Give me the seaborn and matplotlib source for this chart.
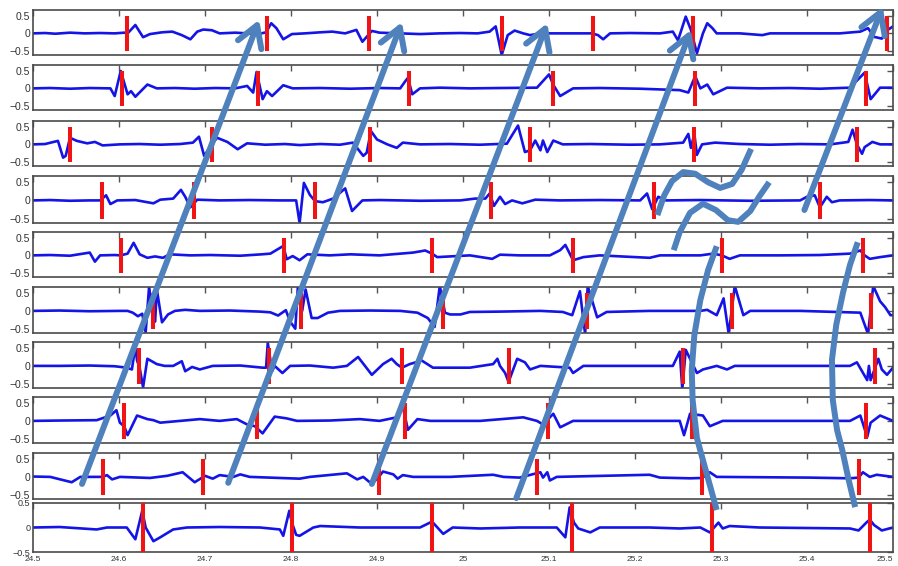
import matplotlib
matplotlib.use("Agg")
import matplotlib.pyplot as plt
import numpy as np
import pandas as pd
import seaborn as sns

# ---------------------------------------------------------------------------
# Recorded channels: (time [s], amplitude) samples, one list per channel
# ---------------------------------------------------------------------------
CH1 = [(24.500, 0.0), (24.514, 0.01), (24.526, -0.01), (24.543, 0.02), (24.560, 0.0),
       (24.578, 0.01), (24.595, 0.0), (24.606, 0.02), (24.610, 0.0), (24.619, 0.24),
       (24.628, -0.11), (24.636, -0.02), (24.650, 0.03), (24.662, 0.05), (24.673, -0.05),
       (24.683, -0.17), (24.691, 0.05), (24.698, 0.11), (24.708, 0.09), (24.717, 0.0),
       (24.735, 0.02), (24.750, 0.0), (24.762, -0.02), (24.771, 0.03), (24.777, 0.29),
       (24.783, 0.15), (24.791, -0.17), (24.801, -0.02), (24.816, 0.0), (24.834, 0.03),
       (24.848, 0.05), (24.863, 0.0), (24.876, 0.1), (24.883, -0.24), (24.888, -0.1),
       (24.894, 0.07), (24.903, 0.02), (24.927, 0.0), (24.950, -0.02), (24.973, 0.0),
       (24.997, 0.01), (25.017, 0.0), (25.031, 0.05), (25.038, 0.2), (25.045, -0.62),
       (25.052, -0.05), (25.060, 0.08), (25.070, 0.0), (25.078, -0.05), (25.090, 0.0),
       (25.124, 0.0), (25.150, 0.0), (25.157, -0.05), (25.163, -0.17), (25.171, 0.0),
       (25.194, 0.01), (25.229, 0.0), (25.244, 0.05), (25.250, -0.2), (25.259, 0.48),
       (25.265, 0.1), (25.272, -0.57), (25.279, 0.0), (25.284, 0.29), (25.290, 0.15),
       (25.295, 0.0), (25.322, 0.0), (25.348, -0.05), (25.357, 0.0), (25.392, 0.0),
       (25.438, 0.0), (25.462, 0.05), (25.471, 0.15), (25.478, -0.1), (25.487, -0.15),
       (25.494, 0.1), (25.500, 0.2)]

CH2 = [(24.500, 0.0), (24.520, 0.01), (24.543, -0.01), (24.566, 0.01), (24.590, 0.0),
       (24.595, -0.22), (24.602, 0.5), (24.610, -0.17), (24.614, -0.08), (24.619, -0.24),
       (24.633, 0.11), (24.644, 0.0), (24.665, 0.01), (24.688, -0.01), (24.712, 0.01),
       (24.735, 0.0), (24.749, 0.07), (24.756, -0.12), (24.760, 0.47), (24.767, -0.31),
       (24.772, -0.08), (24.778, -0.22), (24.791, 0.09), (24.802, 0.0), (24.834, 0.01),
       (24.869, -0.01), (24.903, 0.01), (24.927, 0.0), (24.933, 0.21), (24.936, 0.3),
       (24.941, -0.17), (24.950, 0.0), (24.973, 0.02), (25.008, 0.0), (25.043, 0.01),
       (25.086, 0.02), (25.100, 0.4), (25.105, 0.1), (25.113, -0.22), (25.128, 0.0),
       (25.159, 0.01), (25.206, -0.01), (25.252, -0.05), (25.262, -0.12), (25.270, 0.35),
       (25.276, 0.0), (25.284, 0.11), (25.291, -0.17), (25.307, 0.02), (25.345, 0.0),
       (25.380, 0.01), (25.415, -0.01), (25.450, 0.02), (25.467, 0.45), (25.474, -0.31),
       (25.485, 0.02), (25.500, 0.02)]

CH3 = [(24.500, 0.0), (24.514, 0.01), (24.529, 0.1), (24.535, -0.38), (24.538, -0.33),
       (24.543, 0.19), (24.551, 0.1), (24.563, 0.03), (24.572, 0.07), (24.581, -0.03),
       (24.601, 0.0), (24.624, 0.01), (24.648, -0.01), (24.671, 0.01), (24.686, 0.05),
       (24.693, 0.22), (24.699, -0.33), (24.708, 0.0), (24.714, 0.19), (24.726, 0.07),
       (24.738, -0.14), (24.749, 0.03), (24.770, -0.01), (24.793, 0.01), (24.810, -0.02),
       (24.834, 0.01), (24.857, -0.01), (24.872, 0.05), (24.884, -0.33), (24.888, -0.24),
       (24.893, 0.38), (24.900, 0.14), (24.912, 0.0), (24.923, -0.1), (24.930, 0.05),
       (24.950, 0.0), (24.985, 0.01), (25.020, -0.01), (25.051, 0.02), (25.064, 0.54),
       (25.072, -0.22), (25.078, -0.17), (25.084, 0.11), (25.090, -0.17), (25.093, 0.11),
       (25.098, -0.22), (25.105, 0.11), (25.116, 0.0), (25.148, 0.01), (25.194, -0.01),
       (25.229, 0.0), (25.256, 0.05), (25.262, 0.3), (25.265, -0.1), (25.269, 0.3),
       (25.272, -0.3), (25.278, 0.0), (25.293, 0.05), (25.322, 0.01), (25.357, -0.01),
       (25.392, 0.01), (25.427, 0.0), (25.448, 0.07), (25.453, 0.42), (25.458, 0.0),
       (25.464, -0.27), (25.467, -0.08), (25.476, 0.07), (25.485, 0.0), (25.500, 0.0)]

CH4 = [(24.500, 0.0), (24.520, 0.01), (24.543, -0.01), (24.566, 0.0), (24.578, 0.0),
       (24.585, 0.14), (24.590, -0.1), (24.598, 0.0), (24.619, 0.01), (24.640, -0.08),
       (24.648, 0.02), (24.663, 0.05), (24.672, 0.29), (24.677, 0.1), (24.683, -0.19),
       (24.691, 0.02), (24.717, 0.0), (24.752, 0.01), (24.787, 0.0), (24.806, 0.0),
       (24.810, -0.62), (24.815, 0.48), (24.822, 0.15), (24.828, -0.02), (24.837, -0.05),
       (24.849, 0.05), (24.863, 0.33), (24.871, -0.29), (24.883, 0.0), (24.903, 0.01),
       (24.950, -0.01), (24.997, 0.0), (25.014, 0.05), (25.026, 0.05), (25.031, 0.19),
       (25.036, -0.15), (25.043, 0.1), (25.049, -0.1), (25.057, 0.0), (25.069, -0.08),
       (25.084, 0.02), (25.113, 0.0), (25.159, 0.01), (25.206, 0.0), (25.214, 0.19),
       (25.220, -0.24), (25.227, 0.1), (25.236, 0.0), (25.276, 0.01), (25.334, -0.01),
       (25.392, 0.0), (25.400, 0.1), (25.409, 0.14), (25.415, -0.19), (25.423, 0.1),
       (25.429, -0.05), (25.438, 0.0), (25.473, 0.01), (25.500, 0.0)]

CH5 = [(24.500, 0.0), (24.520, 0.01), (24.543, -0.01), (24.566, 0.08), (24.572, -0.18),
       (24.578, 0.0), (24.595, 0.01), (24.602, 0.0), (24.610, 0.05), (24.617, 0.36),
       (24.624, 0.03), (24.633, -0.07), (24.642, -0.03), (24.651, -0.07), (24.659, 0.03),
       (24.683, 0.0), (24.706, 0.01), (24.741, -0.01), (24.766, 0.03), (24.776, 0.05),
       (24.791, 0.27), (24.795, -0.11), (24.802, -0.02), (24.810, -0.14), (24.819, 0.03),
       (24.845, 0.0), (24.869, 0.03), (24.903, 0.0), (24.942, 0.08), (24.956, 0.14),
       (24.964, 0.05), (24.970, -0.05), (24.985, -0.03), (25.008, 0.0), (25.034, -0.1),
       (25.043, 0.02), (25.066, 0.0), (25.101, 0.0), (25.113, 0.15), (25.119, 0.3),
       (25.128, -0.14), (25.140, -0.05), (25.159, 0.0), (25.217, -0.07), (25.229, 0.0),
       (25.276, 0.0), (25.291, 0.05), (25.301, 0.0), (25.310, -0.1), (25.322, 0.0),
       (25.369, 0.0), (25.415, 0.01), (25.450, 0.05), (25.462, 0.14), (25.467, 0.0),
       (25.473, -0.1), (25.485, -0.05), (25.500, 0.0)]

CH6 = [(24.500, 0.0), (24.531, 0.01), (24.566, -0.01), (24.601, 0.0), (24.610, 0.0),
       (24.616, -0.05), (24.622, -0.15), (24.627, -0.08), (24.631, -0.6), (24.635, 0.68),
       (24.638, 0.1), (24.642, -0.3), (24.644, 0.6), (24.650, -0.32), (24.657, -0.1),
       (24.665, 0.0), (24.677, 0.03), (24.694, 0.0), (24.729, 0.01), (24.764, -0.02),
       (24.776, -0.04), (24.785, -0.13), (24.794, 0.02), (24.799, -0.3), (24.805, -0.5),
       (24.808, 0.68), (24.813, 0.0), (24.817, 0.6), (24.824, -0.2), (24.831, -0.2),
       (24.843, -0.05), (24.857, 0.0), (24.892, 0.01), (24.927, 0.0), (24.947, -0.05),
       (24.959, -0.2), (24.967, -0.45), (24.973, 0.7), (24.979, -0.05), (24.985, -0.1),
       (24.997, -0.1), (25.008, -0.03), (25.043, -0.02), (25.090, 0.0), (25.116, -0.03),
       (25.127, -0.12), (25.136, 0.55), (25.142, -0.65), (25.145, 0.7), (25.156, -0.18),
       (25.167, -0.03), (25.217, 0.0), (25.276, 0.0), (25.284, 0.03), (25.295, -0.12),
       (25.303, 0.35), (25.309, -0.65), (25.316, 0.7), (25.326, -0.12), (25.334, 0.0),
       (25.392, 0.0), (25.462, -0.05), (25.471, -0.65), (25.477, 0.7), (25.485, 0.27),
       (25.491, 0.1), (25.497, -0.12), (25.500, -0.12)]

CH7 = [(24.500, 0.0), (24.531, 0.0), (24.566, 0.01), (24.595, -0.01), (24.609, -0.05),
       (24.615, -0.1), (24.619, 0.55), (24.621, 0.15), (24.624, -0.05), (24.628, -0.6),
       (24.633, 0.2), (24.644, 0.05), (24.653, 0.0), (24.663, 0.0), (24.673, 0.13),
       (24.677, -0.15), (24.685, -0.03), (24.694, -0.1), (24.709, 0.0), (24.741, 0.01),
       (24.767, -0.05), (24.771, -0.05), (24.773, 0.65), (24.778, -0.15), (24.781, 0.0),
       (24.790, -0.2), (24.799, 0.0), (24.822, 0.01), (24.849, -0.05), (24.865, 0.0),
       (24.878, 0.25), (24.894, -0.25), (24.907, 0.05), (24.917, 0.2), (24.923, 0.05),
       (24.929, -0.05), (24.938, 0.05), (24.952, 0.15), (24.965, -0.05), (24.985, -0.05),
       (25.008, -0.05), (25.035, 0.05), (25.040, 0.2), (25.043, 0.0), (25.049, -0.2),
       (25.053, -0.45), (25.063, 0.2), (25.072, 0.1), (25.078, -0.1), (25.090, 0.0),
       (25.124, -0.05), (25.128, -0.2), (25.140, 0.0), (25.183, 0.0), (25.244, 0.0),
       (25.252, 0.4), (25.255, -0.65), (25.259, 0.45), (25.272, -0.2), (25.279, -0.1),
       (25.295, 0.0), (25.307, -0.1), (25.316, 0.0), (25.369, 0.0), (25.450, 0.0),
       (25.458, 0.1), (25.470, -0.4), (25.472, 0.0), (25.474, -0.4), (25.483, 0.2),
       (25.487, -0.1), (25.493, -0.25), (25.500, -0.05)]

CH8 = [(24.500, 0.0), (24.531, 0.01), (24.574, 0.02), (24.590, 0.15), (24.597, 0.3),
       (24.601, -0.05), (24.606, -0.15), (24.610, -0.4), (24.621, 0.15), (24.633, 0.05),
       (24.640, 0.02), (24.648, -0.05), (24.671, 0.0), (24.694, 0.05), (24.717, 0.0),
       (24.737, 0.05), (24.749, -0.1), (24.758, -0.15), (24.767, -0.35), (24.781, 0.12),
       (24.795, 0.07), (24.807, 0.0), (24.845, 0.01), (24.880, 0.05), (24.903, 0.0),
       (24.923, 0.1), (24.930, 0.4), (24.936, -0.25), (24.947, 0.05), (24.962, 0.0),
       (25.020, 0.0), (25.070, 0.1), (25.086, 0.0), (25.093, -0.1), (25.105, 0.2),
       (25.113, -0.18), (25.128, 0.0), (25.183, 0.0), (25.252, 0.0), (25.257, -0.4),
       (25.264, 0.2), (25.279, 0.15), (25.287, -0.15), (25.302, 0.0), (25.369, 0.0),
       (25.450, 0.0), (25.462, 0.15), (25.470, -0.45), (25.474, -0.05), (25.485, 0.15),
       (25.500, 0.0)]

CH9 = [(24.500, 0.01), (24.520, 0.0), (24.545, -0.15), (24.555, 0.0), (24.581, 0.0),
       (24.586, 0.05), (24.592, -0.07), (24.601, 0.0), (24.636, -0.03), (24.656, 0.03),
       (24.674, 0.13), (24.688, -0.15), (24.700, 0.03), (24.709, -0.05), (24.717, 0.05),
       (24.733, 0.0), (24.741, 0.07), (24.752, 0.0), (24.810, -0.05), (24.822, 0.0),
       (24.865, 0.1), (24.877, -0.07), (24.884, 0.0), (24.894, -0.2), (24.902, 0.0),
       (24.907, 0.15), (24.919, 0.07), (24.924, -0.05), (24.930, 0.05), (24.942, 0.0),
       (24.985, 0.0), (25.035, 0.06), (25.047, 0.0), (25.066, -0.02), (25.090, 0.13),
       (25.093, -0.02), (25.098, 0.13), (25.101, -0.1), (25.109, 0.0), (25.217, 0.06),
       (25.229, -0.02), (25.264, -0.04), (25.278, -0.03), (25.287, 0.13), (25.295, 0.0),
       (25.403, -0.02), (25.450, -0.04), (25.460, -0.02), (25.465, 0.13), (25.473, 0.0),
       (25.481, 0.06), (25.500, 0.0)]

CH10 = [(24.500, 0.0), (24.531, 0.01), (24.574, -0.04), (24.586, 0.0), (24.609, 0.0),
        (24.619, -0.24), (24.627, 0.34), (24.631, 0.0), (24.640, -0.28), (24.648, -0.2),
        (24.663, -0.04), (24.679, 0.0), (24.717, 0.01), (24.764, 0.0), (24.787, -0.04),
        (24.791, -0.17), (24.798, 0.34), (24.801, 0.1), (24.806, -0.15), (24.810, -0.17),
        (24.826, 0.0), (24.834, 0.03), (24.880, 0.0), (24.927, 0.0), (24.950, 0.0),
        (24.964, 0.12), (24.977, -0.13), (24.988, 0.0), (25.020, -0.02), (25.066, 0.0),
        (25.109, 0.0), (25.119, -0.2), (25.124, 0.41), (25.129, 0.1), (25.134, -0.02),
        (25.148, -0.1), (25.159, 0.0), (25.217, 0.0), (25.252, -0.02), (25.276, 0.0),
        (25.287, -0.1), (25.297, 0.1), (25.302, -0.02), (25.310, 0.03), (25.345, 0.0),
        (25.450, -0.02), (25.460, -0.06), (25.469, 0.1), (25.473, 0.16), (25.478, 0.05),
        (25.487, -0.06), (25.500, 0.0)]

CHANNELS = [CH1, CH2, CH3, CH4, CH5, CH6, CH7, CH8, CH9, CH10]

# Detected event times per channel [s]
EVENTS = [
    [24.609, 24.772, 24.891, 25.045, 25.151, 25.267, 25.493],
    [24.603, 24.762, 24.937, 25.105, 25.270, 25.469],
    [24.543, 24.708, 24.892, 25.078, 25.269, 25.458],
    [24.580, 24.687, 24.828, 25.033, 25.222, 25.415],
    [24.602, 24.792, 24.964, 25.128, 25.301, 25.465],
    [24.640, 24.812, 24.977, 25.144, 25.313, 25.474],
    [24.623, 24.774, 24.929, 25.053, 25.256, 25.479],
    [24.606, 24.761, 24.933, 25.099, 25.266, 25.469],
    [24.581, 24.698, 24.902, 25.086, 25.278, 25.460],
    [24.628, 24.801, 24.964, 25.127, 25.290, 25.473],
]

X_TICKS = [24.5, 24.6, 24.7, 24.8, 24.9, 25.0, 25.1, 25.2, 25.3, 25.4, 25.5]
X_TICK_LABELS = ["24.5", "24.6", "24.7", "24.8", "24.9", "25",
                 "25.1", "25.2", "25.3", "25.4", "25.5"]
Y_TICKS = [-0.5, 0.0, 0.5]
Y_TICK_LABELS = ["\u22120.5", "0", "0.5"]

# Hand-drawn propagation annotations: (time [s], height as figure fraction)
ARROWS = [
    ((24.557, 0.145), (24.763, 0.965)),
    ((24.727, 0.147), (24.929, 0.961)),
    ((24.894, 0.145), (25.098, 0.959)),
    ((25.062, 0.120), (25.265, 0.947)),
    ((25.397, 0.629), (25.488, 0.988)),
]
WAVE_1 = [(25.226, 0.620), (25.234, 0.655), (25.243, 0.680), (25.256, 0.696),
          (25.270, 0.693), (25.285, 0.678), (25.299, 0.668), (25.313, 0.675),
          (25.324, 0.700), (25.335, 0.737)]
WAVE_2 = [(25.245, 0.558), (25.252, 0.590), (25.264, 0.624), (25.279, 0.640),
          (25.294, 0.629), (25.308, 0.611), (25.320, 0.608), (25.334, 0.627),
          (25.345, 0.654), (25.356, 0.678)]
BEND_1 = [(25.295, 0.565), (25.285, 0.523), (25.276, 0.470), (25.269, 0.408),
          (25.266, 0.346), (25.267, 0.293), (25.272, 0.226), (25.279, 0.187),
          (25.287, 0.143), (25.295, 0.099)]
BEND_2 = [(25.459, 0.572), (25.450, 0.532), (25.442, 0.484), (25.434, 0.426),
          (25.429, 0.364), (25.430, 0.293), (25.435, 0.240), (25.441, 0.205),
          (25.448, 0.155), (25.456, 0.104)]
CURVES = [WAVE_1, WAVE_2, BEND_1, BEND_2]

# ---------------------------------------------------------------------------
# Styling
# ---------------------------------------------------------------------------
sns.set_style("white")
plt.rcParams["font.family"] = ["Liberation Sans", "DejaVu Sans"]

TRACE_C = "#1414e6"
EVENT_C = "#f01414"
NOTE_C = "#4f81bd"
FRAME_C = "#4a4a4a"
TEXT_C = "#333333"

W_PX, H_PX = 898, 566
fig = plt.figure(figsize=(W_PX / 100, H_PX / 100), dpi=100)
fig.patch.set_facecolor("white")

LEFT, WIDTH = 33, 860
TOPS = [10, 65, 121, 176, 232, 287, 342, 397, 453, 503]
HEIGHTS = [45, 45, 45, 47, 45, 46, 46, 46, 46, 49]
X_MIN, X_MAX = 24.5, 25.5

n = len(CHANNELS)
for i, (samples, events) in enumerate(zip(CHANNELS, EVENTS)):
    top, h = TOPS[i], HEIGHTS[i]
    ax = fig.add_axes([LEFT / W_PX, 1 - (top + h) / H_PX, WIDTH / W_PX, h / H_PX])
    df = pd.DataFrame(samples, columns=["t", "v"])
    sns.lineplot(data=df, x="t", y="v", ax=ax, color=TRACE_C, lw=1.9,
                 estimator=None, sort=False, zorder=2)
    last = i == n - 1
    ax.vlines(events, -0.5, 0.5, colors=EVENT_C, lw=2.9, zorder=3)
    ax.set_xlim(X_MIN, X_MAX)
    ax.set_ylim((-0.5, 0.5) if last else (-0.62, 0.67))
    ax.set_xlabel("")
    ax.set_ylabel("")
    ax.set_xticks(X_TICKS)
    ax.set_yticks(Y_TICKS)
    ax.set_yticklabels(Y_TICK_LABELS)
    if last:
        ax.set_xticklabels(X_TICK_LABELS)
        # keep the final label inside the canvas
        ax.get_xticklabels()[-1].set_horizontalalignment("right")
    else:
        ax.set_xticklabels([])
    ax.tick_params(axis="both", direction="in", length=4, width=1.0,
                   color="#555555", top=True, right=True)
    ax.tick_params(axis="y", labelsize=6.5 if last else 7.5,
                   labelcolor=TEXT_C, pad=2)
    ax.tick_params(axis="x", labelsize=6, labelcolor=TEXT_C, pad=3)
    for sp in ax.spines.values():
        sp.set_visible(True)
        sp.set_color(FRAME_C)
        sp.set_linewidth(1.2)

# Overlay for the hand-drawn annotations, in the same time units as the panels
ov = fig.add_axes([0, 0, 1, 1], zorder=10)
ov.set_xlim(X_MIN - LEFT / WIDTH * (X_MAX - X_MIN),
            X_MIN + (W_PX - LEFT) / WIDTH * (X_MAX - X_MIN))
ov.set_ylim(0, 1)
ov.axis("off")
ov.patch.set_alpha(0)

for tail, head in ARROWS:
    ov.annotate("", xy=head, xytext=tail,
                arrowprops=dict(arrowstyle="->,head_length=0.75,head_width=0.45",
                                lw=4.3, color=NOTE_C, shrinkA=0, shrinkB=0,
                                mutation_scale=20))

for curve in CURVES:
    xs, ys = zip(*curve)
    ov.plot(xs, ys, color=NOTE_C, lw=4.3, solid_capstyle="butt",
            solid_joinstyle="round")

fig.savefig("out.png", dpi=100, facecolor="white")
